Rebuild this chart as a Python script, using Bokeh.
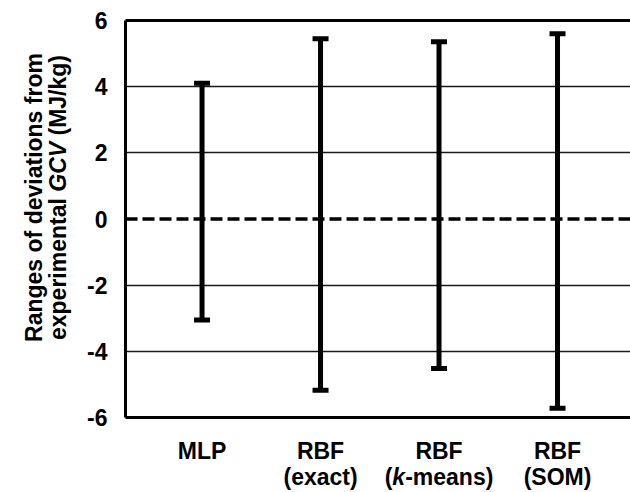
import math
from bokeh.plotting import figure
from bokeh.models import (ColumnDataSource, Whisker, TeeHead, Span,
                          FixedTicker, LinearAxis, Range1d)
from bokeh.layouts import row, column
from bokeh.core.properties import value
from bokeh.embed import file_html
from bokeh.resources import INLINE

# ---- data ----
models_line1 = ["MLP", "RBF", "RBF", "RBF"]
models_line2 = [
    [],
    [("(exact)", "bold")],
    [("(", "bold"), ("k", "bold italic"), ("-means)", "bold")],
    [("(SOM)", "bold")],
]
upper_dev = [4.10, 5.45, 5.36, 5.60]
lower_dev = [-3.05, -5.18, -4.52, -5.72]
y_ticks = [-6, -4, -2, 0, 2, 4, 6]
ylabel_line1 = [("Ranges of deviations from", "bold")]
ylabel_line2 = [("experimental ", "bold"), ("GCV", "bold italic"), (" (MJ/kg)", "bold")]

# ---- layout constants ----
TOTAL_W, TOTAL_H = 630, 492
LAB_W = 75            # left strip with the rotated y title
MAIN_H = 430          # main plot height
BOT_H = TOTAL_H - MAIN_H
FRAME_L, FRAME_T, FRAME_B = 125, 20, 417
FONT = "Liberation Sans"
FS = 23
x_lo, x_hi = 0.354, 4.616
y_lo, y_hi = -6, 6
px_y = (FRAME_B - FRAME_T) / (y_hi - y_lo)

# Arial Bold advance widths (per 1000 em)
AW = {' ': 278, '(': 333, ')': 333, '-': 333, '/': 278,
      'a': 556, 'c': 556, 'd': 611, 'e': 556, 'f': 333, 'g': 611, 'i': 278,
      'k': 556, 'l': 278, 'm': 889, 'n': 611, 'o': 611, 'p': 611, 'r': 389,
      's': 556, 't': 333, 'v': 556, 'x': 556,
      'B': 722, 'C': 722, 'F': 611, 'G': 778, 'J': 556, 'L': 611, 'M': 833,
      'O': 778, 'P': 667, 'R': 722, 'S': 667, 'V': 667}


def tw(s):
    return sum(AW.get(ch, 556) for ch in s) * FS / 1000.0


def bare(w, h, xr, yr):
    f = figure(width=w, height=h, x_range=xr, y_range=yr, output_backend="svg",
               toolbar_location=None, x_axis_type=None, y_axis_type=None, min_border=0)
    f.outline_line_color = None
    f.grid.visible = False
    f.background_fill_color = "white"
    f.border_fill_color = "white"
    return f


# ---- main plot ----
main_w = TOTAL_W - LAB_W
p = figure(width=main_w, height=MAIN_H, x_range=Range1d(x_lo, x_hi),
           y_range=Range1d(y_lo, y_hi),
           output_backend="svg", toolbar_location=None,
           min_border_left=FRAME_L - LAB_W, min_border_right=0,
           min_border_top=FRAME_T, min_border_bottom=MAIN_H - FRAME_B)
p.outline_line_color = None
p.background_fill_color = "white"
p.border_fill_color = "white"

p.yaxis.ticker = FixedTicker(ticks=y_ticks)
p.yaxis.major_label_overrides = {t: str(t) for t in y_ticks}
p.yaxis.axis_line_width = 3
p.yaxis.axis_line_color = "black"
p.yaxis.major_tick_line_color = None
p.yaxis.minor_tick_line_color = None
p.yaxis.major_label_text_font = FONT
p.yaxis.major_label_text_font_style = "bold"
p.yaxis.major_label_text_font_size = f"{FS}px"
p.yaxis.major_label_text_color = "black"
p.yaxis.major_label_standoff = 12

p.xaxis.ticker = FixedTicker(ticks=[])
p.xaxis.axis_line_width = 3
p.xaxis.axis_line_color = "black"
p.xaxis.major_tick_line_color = None
p.xaxis.minor_tick_line_color = None
p.xaxis.major_label_text_font_size = "0px"
p.xaxis.major_label_standoff = 0

top_axis = LinearAxis(ticker=FixedTicker(ticks=[]), axis_line_width=3, axis_line_color="black",
                      major_tick_line_color=None, minor_tick_line_color=None,
                      major_label_text_font_size="0px", major_label_standoff=0)
p.add_layout(top_axis, "above")

p.xgrid.visible = False
p.ygrid.ticker = FixedTicker(ticks=[t for t in y_ticks if t not in (0, y_lo, y_hi)])
p.ygrid.grid_line_color = "#1a1a1a"
p.ygrid.grid_line_width = 1.5

p.add_layout(Span(location=0, dimension="width", line_color="black",
                  line_width=3.5, line_dash="12 5"))

xs = list(range(1, len(upper_dev) + 1))
src = ColumnDataSource(dict(x=xs, upper=upper_dev, lower=lower_dev))
p.add_layout(Whisker(source=src, base="x", upper="upper", lower="lower",
                     line_width=5, line_color="black",
                     upper_head=TeeHead(size=16, line_width=5, line_color="black"),
                     lower_head=TeeHead(size=16, line_width=5, line_color="black")))

# ---- y title strip (frame aligned with main plot's frame; same y range) ----
left = bare(LAB_W, MAIN_H, Range1d(0, LAB_W), Range1d(y_lo, y_hi))
yc_page = 197
yc = y_hi - (yc_page - FRAME_T) / px_y
for parts, bx in ((ylabel_line1, 33), (ylabel_line2, 57)):
    total = sum(tw(t) for t, _ in parts)
    cum = -total / 2
    for t, st in parts:
        lead = tw(t) - tw(t.lstrip())
        left.text(x=[bx], y=[yc + (cum + lead) / px_y], text=[t.strip()],
                  angle=math.pi / 2, text_align="left", text_baseline="alphabetic",
                  text_font=value(FONT), text_font_style=st,
                  text_font_size=value(f"{FS}px"), text_color="black")
        cum += tw(t)

# ---- category label strip (shares x range) ----
bot = bare(TOTAL_W, BOT_H, p.x_range, Range1d(0, BOT_H))
bot.min_border_left = FRAME_L
base1 = BOT_H - (450 - MAIN_H)
base2 = BOT_H - (476 - MAIN_H)
bot.text(x=xs, y=[base1] * len(xs), text=models_line1, text_align="center",
         text_baseline="alphabetic", text_font=value(FONT), text_font_style="bold",
         text_font_size=value(f"{FS}px"), text_color="black")
for i, parts in enumerate(models_line2):
    total = sum(tw(t) for t, _ in parts)
    cum = -total / 2
    for t, st in parts:
        bot.text(x=[xs[i]], y=[base2], x_offset=cum, text=[t], text_align="left",
                 text_baseline="alphabetic", text_font=value(FONT), text_font_style=st,
                 text_font_size=value(f"{FS}px"), text_color="black")
        cum += tw(t)

layout = column(row(left, p, spacing=0), bot, spacing=0)
open("out.html", "w").write(file_html(layout, INLINE))
